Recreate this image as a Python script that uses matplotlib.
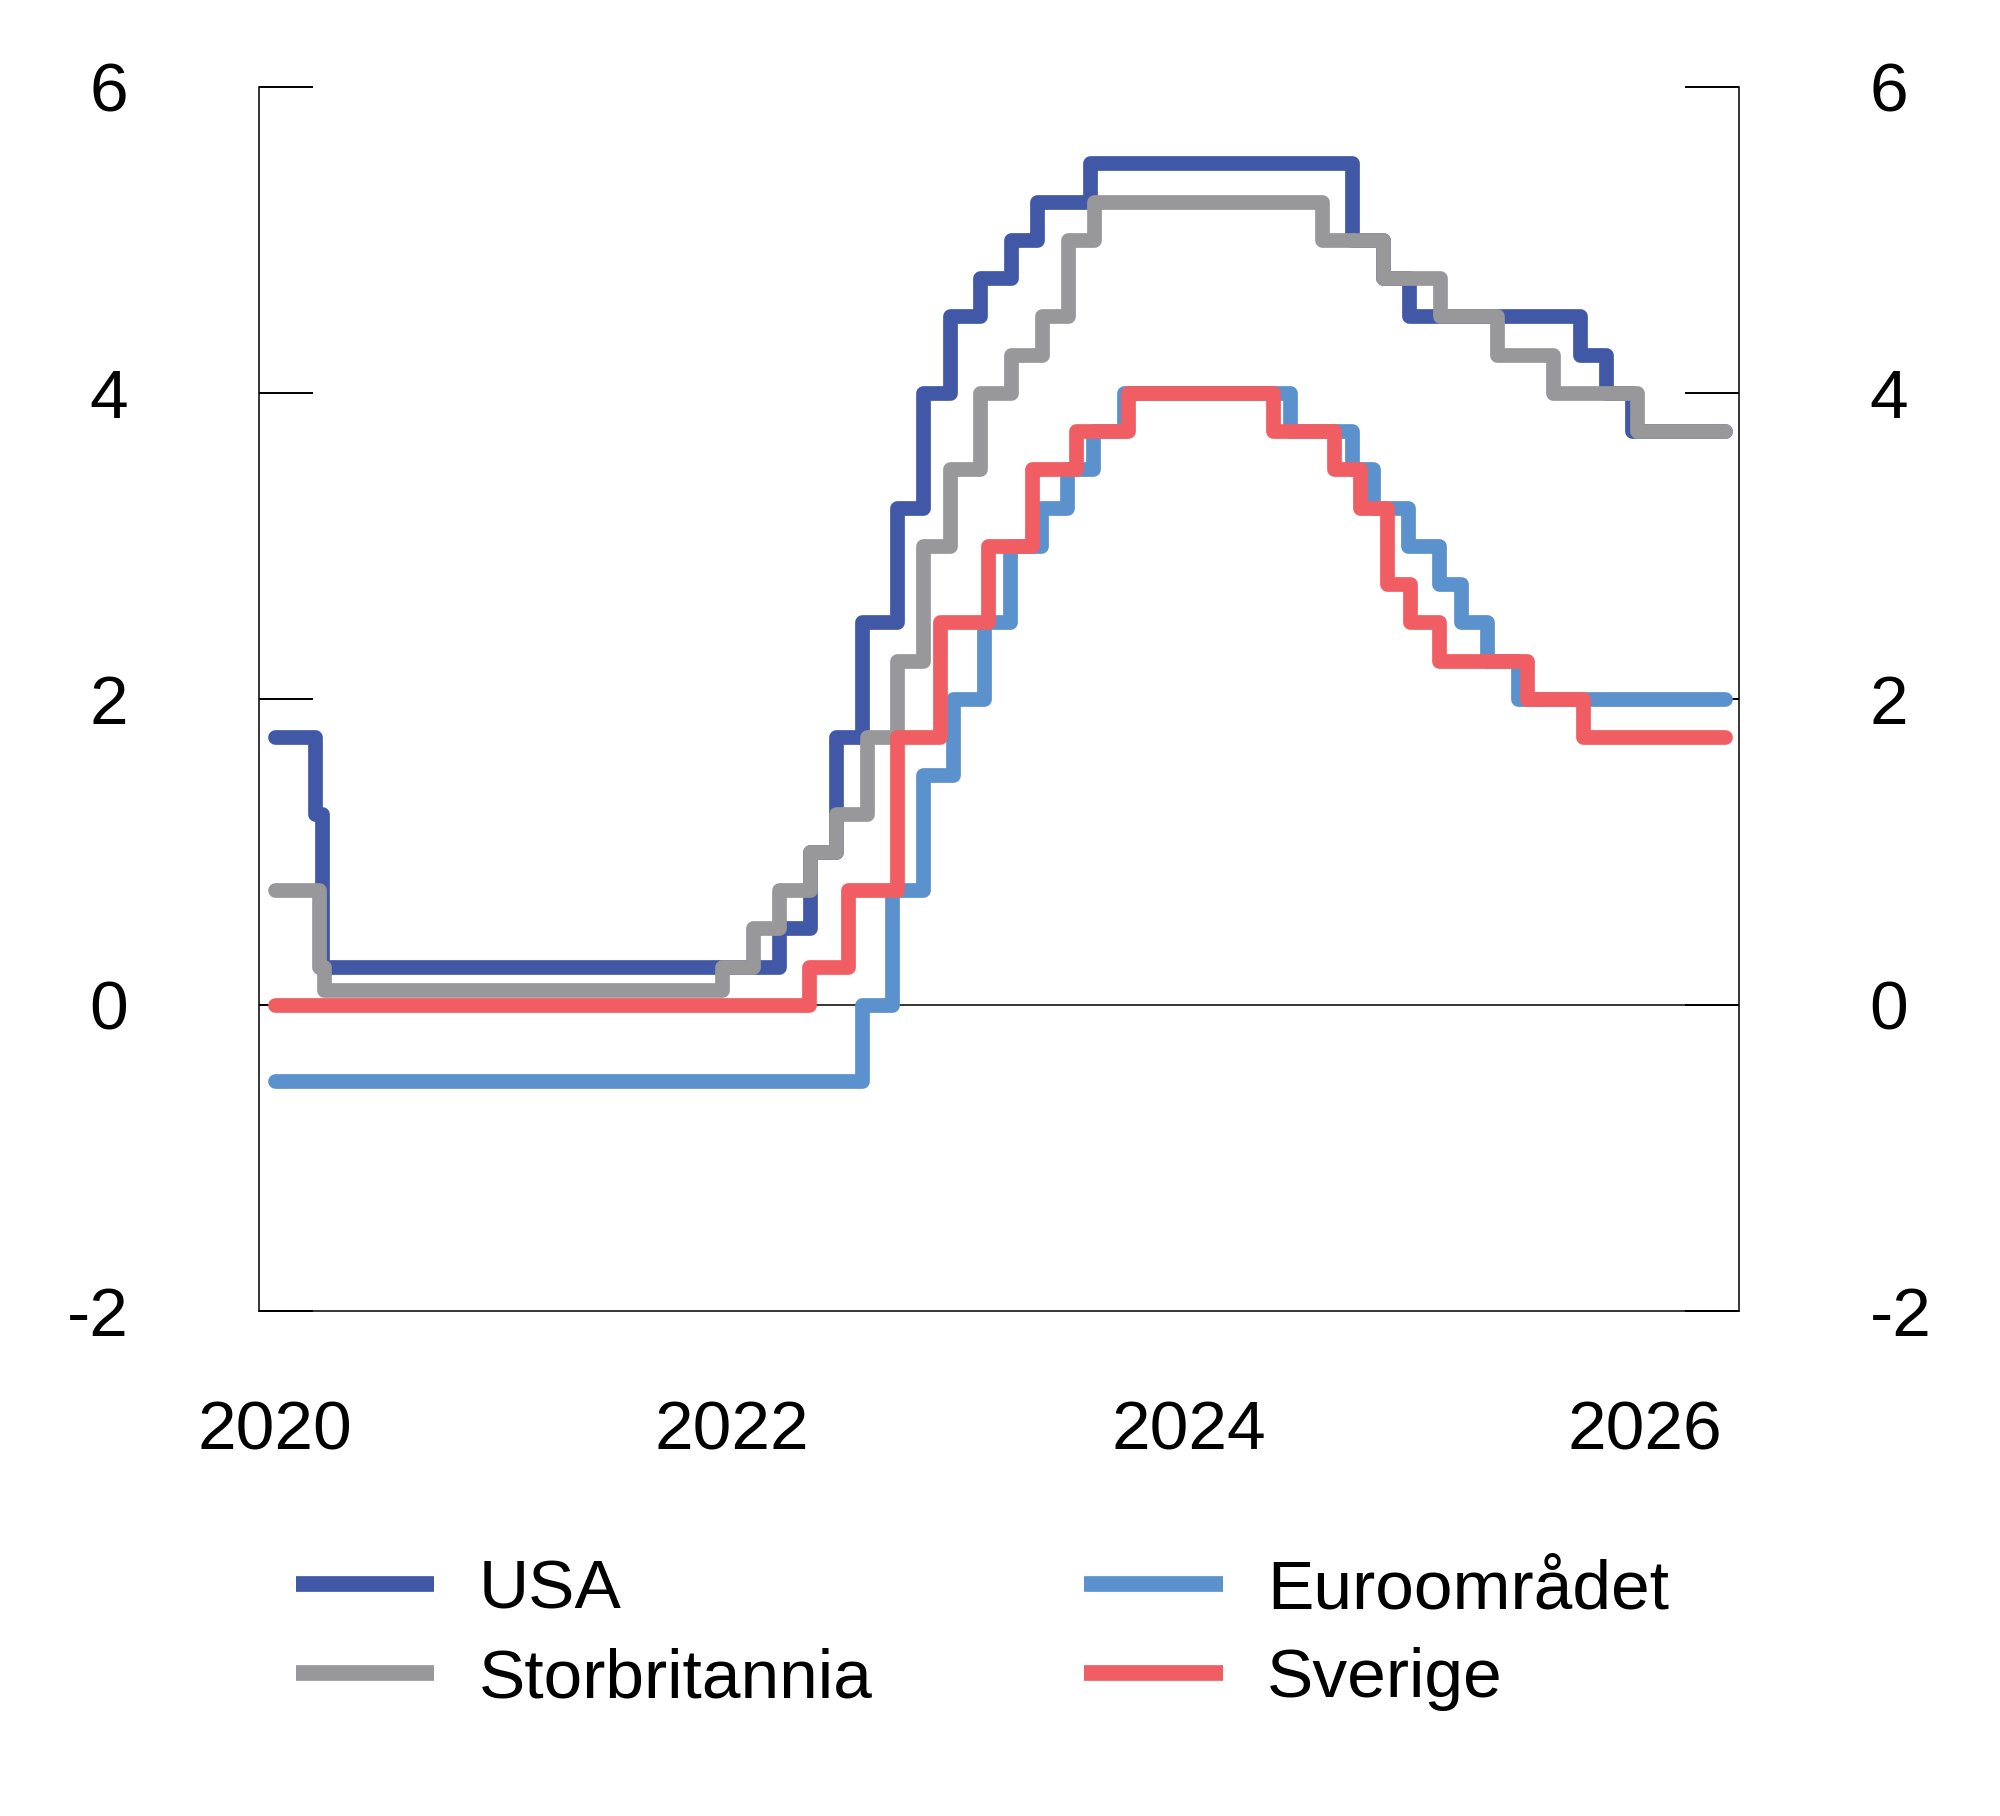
import numpy as np
import pandas as pd
import matplotlib
matplotlib.use("Agg")
import matplotlib.pyplot as plt
from matplotlib.lines import Line2D

plt.rcParams['font.family'] = ['Liberation Sans', 'DejaVu Sans']

# policy rate decisions (date rate takes effect, new level)
usa_dates = ["2020-01-01", "2020-03-04", "2020-03-16", "2022-03-17", "2022-05-05",
             "2022-06-16", "2022-07-28", "2022-09-22", "2022-11-03", "2022-12-15",
             "2023-02-02", "2023-03-23", "2023-05-04", "2023-07-27", "2024-09-19",
             "2024-11-08", "2024-12-19", "2025-09-18", "2025-10-30", "2025-12-11"]
usa_rates = [1.75, 1.25, 0.25, 0.5, 1.0, 1.75, 2.5, 3.25, 4.0, 4.5,
             4.75, 5.0, 5.25, 5.5, 5.0, 4.75, 4.5, 4.25, 4.0, 3.75]

euro_dates = ["2020-01-01", "2022-07-27", "2022-09-14", "2022-11-02", "2022-12-21",
              "2023-02-08", "2023-03-22", "2023-05-10", "2023-06-21", "2023-08-02",
              "2023-09-20", "2024-06-12", "2024-09-18", "2024-10-23", "2024-12-18",
              "2025-02-05", "2025-03-12", "2025-04-23", "2025-06-11"]
euro_rates = [-0.5, 0.0, 0.75, 1.5, 2.0, 2.5, 3.0, 3.25, 3.5, 3.75,
              4.0, 3.75, 3.5, 3.25, 3.0, 2.75, 2.5, 2.25, 2.0]

uk_dates = ["2020-01-01", "2020-03-11", "2020-03-19", "2021-12-16", "2022-02-03",
            "2022-03-17", "2022-05-05", "2022-06-16", "2022-08-04", "2022-09-22",
            "2022-11-03", "2022-12-15", "2023-02-02", "2023-03-23", "2023-05-11",
            "2023-06-22", "2023-08-03", "2024-08-01", "2024-11-07", "2025-02-06",
            "2025-05-08", "2025-08-07", "2025-12-18"]
uk_rates = [0.75, 0.25, 0.1, 0.25, 0.5, 0.75, 1.0, 1.25, 1.75, 2.25,
            3.0, 3.5, 4.0, 4.25, 4.5, 5.0, 5.25, 5.0, 4.75, 4.5,
            4.25, 4.0, 3.75]

se_dates = ["2020-01-01", "2022-05-04", "2022-07-06", "2022-09-21", "2022-11-30",
            "2023-02-15", "2023-04-26", "2023-07-05", "2023-09-27", "2024-05-15",
            "2024-08-21", "2024-10-02", "2024-11-13", "2024-12-20", "2025-02-05",
            "2025-06-25", "2025-09-24"]
se_rates = [0.0, 0.25, 0.75, 1.75, 2.5, 3.0, 3.5, 3.75, 4.0, 3.75,
            3.5, 3.25, 2.75, 2.5, 2.25, 2.0, 1.75]

end_date = "2026-05-08"

labels = ["USA", "Euroområdet", "Storbritannia", "Sverige"]
colors = ["#4158A6", "#5B91CC", "#98979A", "#F05E64"]
year_ticks = ["2020", "2022", "2024", "2026"]


def step_series(dates, rates):
    # repeat last level out to the end date so steps-post draws it
    d = pd.to_datetime(list(dates) + [end_date])
    r = list(rates) + [rates[-1]]
    return d, r


fig = plt.figure(figsize=(20, 18.16), dpi=100)
ax = fig.add_axes([0.1295, 0.2781, 0.74, 0.674])

ax.axhline(0, color="black", lw=1.1, zorder=1)

series = [(usa_dates, usa_rates), (euro_dates, euro_rates),
          (uk_dates, uk_rates), (se_dates, se_rates)]
lw = 10.6
for (d, r), lab, c in zip(series, labels, colors):
    x, y = step_series(d, r)
    ax.plot(x, y, drawstyle="steps-post", color=c, lw=lw, label=lab,
            solid_capstyle="round", solid_joinstyle="round", zorder=3)

ax.set_ylim(-2, 6)
ax.set_yticks([-2, 0, 2, 4, 6])
ax.set_yticklabels(["-2", "0", "2", "4", "6"])
ax.set_xlim(pd.Timestamp("2019-12-06"), pd.Timestamp("2026-05-31"))
ax.set_xticks(pd.to_datetime([y + "-01-01" for y in year_ticks]))
ax.set_xticklabels(year_ticks)

ax.tick_params(axis="y", direction="in", length=39, width=1.4, pad=94,
               labelsize=50, right=True, labelright=True)
ax.tick_params(axis="x", length=0, pad=64, labelsize=50)

ax.spines["top"].set_visible(False)
for s in ["left", "right", "bottom"]:
    ax.spines[s].set_linewidth(1.1)

# legend, two columns: USA/Storbritannia left, Euroområdet/Sverige right
order = [0, 2, 1, 3]
handles = [Line2D([0], [0], color=colors[i], lw=11.3, solid_capstyle="butt")
           for i in order]
fig.legend(handles, [labels[i] for i in order], loc="upper left",
           bbox_to_anchor=(0.148, 0.142), ncol=2, frameon=False,
           fontsize=50, borderpad=0, borderaxespad=0, handlelength=1.99,
           handletextpad=0.64, columnspacing=3.05, labelspacing=0.36)

fig.savefig("out.png", dpi=100)
